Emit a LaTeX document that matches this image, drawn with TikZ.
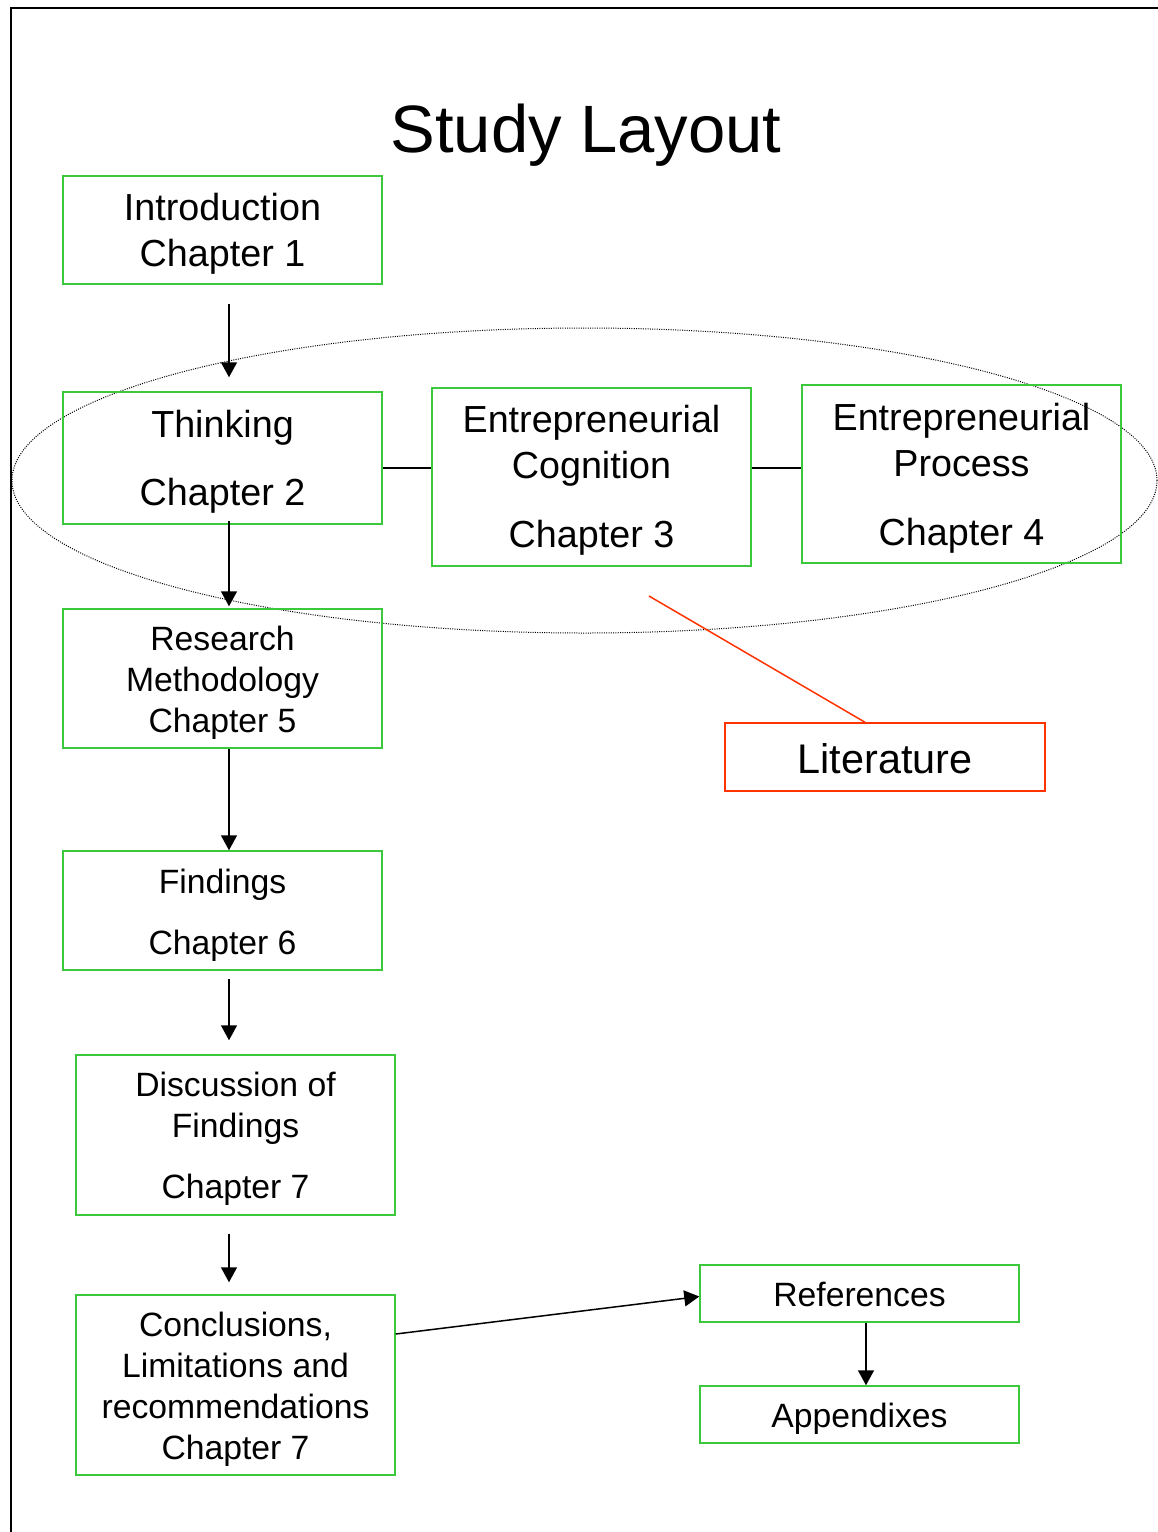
\documentclass[tikz,border=0pt]{standalone}
\usepackage{fontspec}
\setmainfont{Liberation Sans}
\usetikzlibrary{arrows.meta,calc}
\definecolor{boxgreen}{RGB}{60,200,60}
\definecolor{litred}{RGB}{255,51,0}
\newcommand\upstrut[1]{\rule{0pt}{#1}}
\begin{document}
\begin{tikzpicture}[x=1pt,y=1pt,
 box/.style={draw=boxgreen,line width=1.5pt,minimum width=319pt,align=center,inner sep=0pt},
 big/.style={font=\fontsize{37.7}{46}\selectfont},
 small/.style={font=\fontsize{33.7}{41}\selectfont},
 arr/.style={line width=1.5pt,-{Triangle[length=15pt,width=16pt]}},
 conn/.style={line width=1.5pt}]
\useasboundingbox (0,0) rectangle (1158,-1532);
\draw[line width=2.5pt] (11,-1540) -- (11,-8) -- (1165,-8);
\node[font=\fontsize{67}{80}\selectfont, anchor=base] (title) at (586,-152) {Study Layout};
\draw[dotted, line width=1pt, dash pattern=on 1pt off 1.3pt] (584.5,-480.5) ellipse [x radius=572.5, y radius=152.5];
\node[box,big,minimum height=108pt] (intro) at (222.5,-230) {\upstrut{35.5pt}Introduction\\Chapter 1};
\node[box,big,minimum height=132pt] (think) at (222.5,-458) {\upstrut{35.5pt}Thinking\\[22pt]Chapter 2};
\node[box,big,minimum height=178pt] (cog) at (591.5,-477) {\upstrut{33.5pt}Entrepreneurial\\Cognition\\[23pt]Chapter 3};
\node[box,big,minimum height=178pt] (proc) at (961.5,-474) {\upstrut{35.5pt}Entrepreneurial\\Process\\[23pt]Chapter 4};
\node[box,small,minimum height=139pt] (res) at (222.5,-678.5) {\upstrut{32.6pt}Research\\Methodology\\Chapter 5};
\node[box,small,minimum height=119pt] (find) at (222.5,-910.5) {\upstrut{34pt}Findings\\[20pt]Chapter 6};
\node[box,small,minimum height=160pt] (disc) at (235.5,-1135) {\upstrut{32.6pt}Discussion of\\Findings\\[20pt]Chapter 7};
\node[box,small,minimum height=180pt] (concl) at (235.5,-1385) {\upstrut{32.6pt}Conclusions,\\Limitations and\\recommendations\\Chapter 7};
\node[box,draw=litred,font=\fontsize{41.4}{50}\selectfont,minimum width=320pt,minimum height=68pt] (lit) at (885,-757) {\upstrut{34pt}Literature};
\node[box,small,minimum height=57pt] (refs) at (859.5,-1293.5) {\upstrut{26pt}References};
\node[box,small,minimum height=57pt] (app) at (859.5,-1414.5) {\upstrut{32pt}Appendixes};
\draw[arr] ([xshift=6.5pt,yshift=-19pt]intro.south) -- ([xshift=6.5pt,yshift=14pt]think.north);
\draw[arr] ([xshift=6.5pt,yshift=4pt]think.south) -- ([xshift=6.5pt,yshift=2pt]res.north);
\draw[arr] ([xshift=6.5pt]res.south) -- ([xshift=6.5pt]find.north);
\draw[arr] ([xshift=6.5pt,yshift=-8pt]find.south) -- ([xshift=-6.5pt,yshift=14pt]disc.north);
\draw[arr] ([xshift=-6.5pt,yshift=-18pt]disc.south) -- ([xshift=-6.5pt,yshift=12pt]concl.north);
\draw[arr] ([yshift=51pt]concl.east) -- ([yshift=-3pt]refs.west);
\draw[arr] ([xshift=6.5pt]refs.south) -- ([xshift=6.5pt]app.north);
\draw[conn] ([yshift=-10pt]think.east) -- ([yshift=-10pt]think.east -| cog.west);
\draw[conn] ([yshift=9pt]cog.east) -- ([yshift=9pt]cog.east -| proc.west);
\coordinate (litend) at (649,-596);
\draw[litred,line width=1.5pt] ([xshift=-20pt]lit.north) -- (litend);
\end{tikzpicture}
\end{document}
